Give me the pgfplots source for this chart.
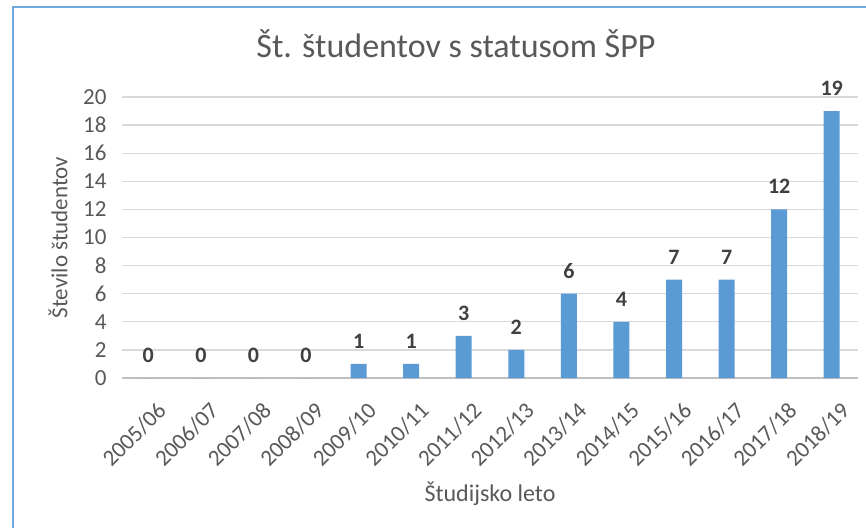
\documentclass[border=0pt]{standalone}
\usepackage{fontspec}
\setmainfont{Carlito}
\usepackage{pgfplots}
\pgfplotsset{compat=1.18}
\definecolor{barblue}{HTML}{5B9BD5}
\definecolor{gridgray}{HTML}{D9D9D9}
\definecolor{axgray}{HTML}{BFBFBF}
\definecolor{txtgray}{HTML}{595959}
\definecolor{lblgray}{HTML}{404040}
\definecolor{framebl}{HTML}{6FA8DC}
\begin{document}
\begin{tikzpicture}
\useasboundingbox (0,0) rectangle (866pt,528pt);
\fill[white] (0,0) rectangle (866pt,528pt);
\draw[framebl, line width=2.5pt] (13pt,0) -- (13pt,521pt) -- (866pt,521pt);
\node[font=\fontsize{34}{39}\selectfont, text=txtgray, anchor=base] at (456pt,470pt) {Št. študentov s statusom ŠPP};
\begin{axis}[
  at={(122pt,150pt)}, anchor=south west,
  scale only axis, width=736pt, height=281pt,
  ybar, bar width=16pt,
  xmin=-0.5, xmax=13.5, ymin=0, ymax=20,
  ytick={0,2,...,20},
  xtick={0,...,13},
  xticklabels={2005/06,2006/07,2007/08,2008/09,2009/10,2010/11,2011/12,2012/13,2013/14,2014/15,2015/16,2016/17,2017/18,2018/19},
  /pgf/number format/assume math mode=true,
  ymajorgrids, major grid style={gridgray, line width=1.3pt},
  axis x line*=bottom, axis y line*=left,
  x axis line style={axgray, line width=1.3pt, -},
  y axis line style={draw=none},
  tick style={draw=none},
  ticklabel style={font=\fontsize{23}{27}\selectfont, text=txtgray},
  yticklabel style={xshift=-12pt},
  xticklabel style={rotate=45, anchor=north east, xshift=-4pt, yshift=-15pt},
  xlabel={Študijsko leto},
  ylabel={Število študentov},
  every axis x label/.style={at={(rel axis cs:0.5,0)}, yshift=-116pt, anchor=center, font=\fontsize{24}{28}\selectfont, text=txtgray},
  every axis y label/.style={at={(rel axis cs:0,0.5)}, xshift=-64pt, rotate=90, anchor=center, font=\fontsize{23}{27}\selectfont, text=txtgray},
  nodes near coords,
  every node near coord/.append style={font=\bfseries\fontsize{22}{26}\selectfont, text=lblgray, yshift=12pt},
]
\addplot[fill=barblue, draw=none] coordinates {
(0,0) (1,0) (2,0) (3,0) (4,1) (5,1) (6,3) (7,2) (8,6) (9,4) (10,7) (11,7) (12,12) (13,19)
};
\end{axis}
\end{tikzpicture}
\end{document}
